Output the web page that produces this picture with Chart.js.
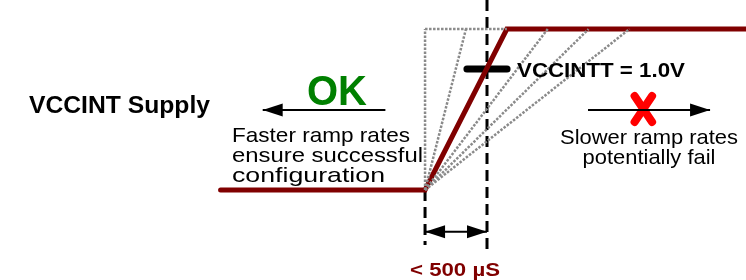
<!DOCTYPE html>
<html>
<head>
<meta charset="utf-8">
<script src="https://cdn.jsdelivr.net/npm/chart.js@4/dist/chart.umd.min.js"></script>
<style>
  html, body { margin: 0; padding: 0; background: #ffffff; }
  #wrap { width: 746px; height: 280px; position: relative; }
</style>
</head>
<body>
<div id="wrap"><canvas id="c"></canvas></div>
<script>
// ---------- data (time in µs, voltage in V) ----------
const supplyT = [-1650, 0, 660, 2590];          // VCCINT supply ramp (time)
const supplyV = [0, 0, 1.33, 1.33];             // VCCINT supply ramp (volts)
const altRampEndT = [0, 330, 990, 1320, 1650];  // alternative ramp end times (dotted)
const rampTopV = 1.33;                          // supply top level
const rampTopEndT = 660;                        // end of dotted top segment
const thresholdV = 1.0;                         // VCCINTT
const thresholdBarT = [338, 662];               // threshold marker extent
const limitT = 500;                             // < 500 µS limit
const limitLineV = [1.57, -0.5];                // vertical dashed extent
const startLineV = [0, -0.455];                 // short dashed at t=0
const spanArrowV = -0.345;                      // double arrow level
const okArrowT = [-320, -1310];                 // faster arrow (tail, head)
const failArrowT = [1315, 2300];                // slower arrow (tail, head)
const arrowV = 0.661;                           // arrow level
const crossT = [1691, 1832];                    // red X extent (time)
const crossV = [0.562, 0.777];                  // red X extent (volts)

const labels = {
  supply: 'VCCINT Supply',
  ok: 'OK',
  faster: ['Faster ramp rates', 'ensure successful', 'configuration'],
  threshold: 'VCCINTT = 1.0V',
  slower: ['Slower ramp rates', 'potentially fail'],
  limit: '< 500 µS'
};

// ---------- build datasets ----------
const RED = '#800000';
const GRAY = '#8a8a8a';
const ds = [];
const line = (pts, o) => Object.assign({
  data: pts, showLine: true, pointRadius: 0, borderWidth: 2,
  borderColor: '#000', fill: false, tension: 0
}, o);

// dotted alternative ramps
altRampEndT.forEach(t => ds.push(line([{x: 0, y: 0}, {x: t, y: rampTopV}],
  {borderColor: GRAY, borderWidth: 2.5, borderDash: [2.5, 1.5]})));
ds.push(line([{x: 0, y: rampTopV}, {x: rampTopEndT, y: rampTopV}],
  {borderColor: GRAY, borderWidth: 2.5, borderDash: [2.5, 1.5]}));
// main supply
ds.push(line(supplyT.map((t, i) => ({x: t, y: supplyV[i]})),
  {borderColor: RED, borderWidth: 5, borderCapStyle: 'round', borderJoinStyle: 'miter'}));
// vertical dashed lines
ds.push(line([{x: limitT, y: limitLineV[0]}, {x: limitT, y: limitLineV[1]}],
  {borderWidth: 3, borderDash: [11, 6]}));
ds.push(line([{x: 0, y: startLineV[0]}, {x: 0, y: startLineV[1]}],
  {borderWidth: 3, borderDash: [11, 6]}));
// threshold bar
ds.push(line([{x: thresholdBarT[0], y: thresholdV}, {x: thresholdBarT[1], y: thresholdV}],
  {borderWidth: 7, borderCapStyle: 'round'}));
// arrows
const arrowIdx = [];
ds.push(line([{x: 0, y: spanArrowV}, {x: limitT, y: spanArrowV}], {borderWidth: 2}));
arrowIdx.push({i: ds.length - 1, ends: [0, 1]});
ds.push(line([{x: okArrowT[0], y: arrowV}, {x: okArrowT[1], y: arrowV}], {borderWidth: 2}));
arrowIdx.push({i: ds.length - 1, ends: [1]});
ds.push(line([{x: failArrowT[0], y: arrowV}, {x: failArrowT[1], y: arrowV}], {borderWidth: 2}));
arrowIdx.push({i: ds.length - 1, ends: [1]});
// red X
ds.push(line([{x: crossT[0], y: crossV[1]}, {x: crossT[1], y: crossV[0]}],
  {borderColor: '#ff0000', borderWidth: 8, borderCapStyle: 'round'}));
ds.push(line([{x: crossT[0], y: crossV[0]}, {x: crossT[1], y: crossV[1]}],
  {borderColor: '#ff0000', borderWidth: 8, borderCapStyle: 'round'}));

// ---------- plugin: arrowheads and text ----------
const FONT = "'Liberation Sans', Arial, Helvetica, sans-serif";
function drawText(ctx, s, x, y, font, color, align, targetW) {
  ctx.save();
  ctx.font = font;
  ctx.fillStyle = color;
  ctx.textAlign = 'left';
  ctx.textBaseline = 'alphabetic';
  const w = ctx.measureText(s).width;
  const sx = targetW ? targetW / w : 1;
  const W = w * sx;
  const left = align === 'center' ? x - W / 2 : x;
  ctx.translate(left, y);
  ctx.scale(sx, 1);
  ctx.fillText(s, 0, 0);
  ctx.restore();
}

const deco = {
  id: 'deco',
  afterDatasetsDraw(chart) {
    const ctx = chart.ctx;
    const xs = chart.scales.x, ys = chart.scales.y;
    // arrowheads
    arrowIdx.forEach(a => {
      const d = chart.data.datasets[a.i].data;
      a.ends.forEach(e => {
        const tip = d[e], other = d[e === 0 ? 1 : 0];
        const tx = xs.getPixelForValue(tip.x), ty = ys.getPixelForValue(tip.y);
        const ox = xs.getPixelForValue(other.x), oy = ys.getPixelForValue(other.y);
        const ang = Math.atan2(ty - oy, tx - ox);
        const L = 20, H = 6.5;
        ctx.save();
        ctx.translate(tx, ty);
        ctx.rotate(ang);
        ctx.beginPath();
        ctx.moveTo(0, 0);
        ctx.lineTo(-L, -H);
        ctx.lineTo(-L, H);
        ctx.closePath();
        ctx.fillStyle = '#000';
        ctx.fill();
        ctx.restore();
      });
    });
    // texts
    drawText(ctx, labels.supply, 29, 113, `bold 23px ${FONT}`, '#000', 'left', 181);
    drawText(ctx, labels.ok, 307, 105, `bold 42px ${FONT}`, '#008000', 'left', 60);
    const fw = [178, 191, 153];
    labels.faster.forEach((s, k) => drawText(ctx, s, 232, 141.7 + 20 * k, `21px ${FONT}`, '#000', 'left', fw[k]));
    drawText(ctx, labels.threshold, 517, 76.7, `bold 21px ${FONT}`, '#000', 'left', 168);
    const sw = [178, 133];
    labels.slower.forEach((s, k) => drawText(ctx, s, 649, 144 + 19.5 * k, `21px ${FONT}`, '#000', 'center', sw[k]));
    drawText(ctx, labels.limit, 410, 276, `bold 18px ${FONT}`, RED, 'left', 90);
  }
};

new Chart(document.getElementById('c'), {
  type: 'scatter',
  data: { datasets: ds },
  options: {
    responsive: true,
    maintainAspectRatio: false,
    animation: false,
    events: [],
    layout: { padding: 0 },
    plugins: { legend: { display: false }, tooltip: { enabled: false } },
    scales: {
      x: { type: 'linear', display: false, min: -3430, max: 2590 },
      y: { type: 'linear', display: false, min: -0.744, max: 1.570 }
    }
  },
  plugins: [deco]
});
</script>
</body>
</html>
